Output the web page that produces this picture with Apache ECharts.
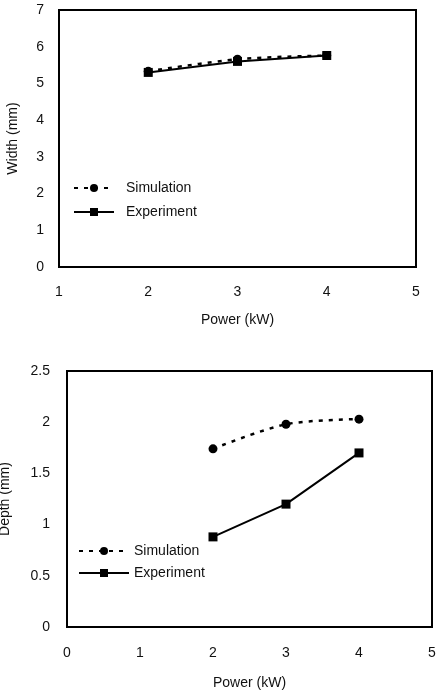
<!DOCTYPE html>
<html style="height: 100%">
<head>
  <meta charset="utf-8">
</head>
<body style="height: 100%; margin: 0; background: #fff">
  <div id="container" style="width: 442px; height: 691px"></div>
  <script src="https://cdn.jsdelivr.net/npm/echarts@6/dist/echarts.min.js"></script>
  <script>
    // data
    var power = [2, 3, 4];
    var widthSim = [5.33, 5.66, 5.76];
    var widthExp = [5.3, 5.6, 5.76];
    var depthSim = [1.74, 1.98, 2.03];
    var depthExp = [0.88, 1.2, 1.7];

    function pairs(xs, ys) {
      return xs.map(function (x, i) { return [x, ys[i]]; });
    }

    var font = 'Liberation Sans, Arial, sans-serif';
    var myChart = echarts.init(document.getElementById('container'));

    var axisCommon = {
      axisLine: { show: false },
      axisTick: { show: false },
      splitLine: { show: false },
      nameLocation: 'middle',
      nameTextStyle: { color: '#111', fontSize: 14, fontFamily: font },
      axisLabel: { color: '#111', fontSize: 14, fontFamily: font }
    };

    function simSeries(idx, data) {
      return {
        name: 'Simulation', type: 'line', xAxisIndex: idx, yAxisIndex: idx,
        data: data, smooth: 0.3,
        symbol: 'circle', symbolSize: 9,
        itemStyle: { color: '#000' },
        lineStyle: { color: '#000', width: 2.5, type: [4, 6] }
      };
    }
    function expSeries(idx, data) {
      return {
        name: 'Experiment', type: 'line', xAxisIndex: idx, yAxisIndex: idx,
        data: data,
        symbol: 'rect', symbolSize: 9,
        itemStyle: { color: '#000' },
        lineStyle: { color: '#000', width: 2 }
      };
    }

    var legendCommon = {
      orient: 'vertical',
      itemHeight: 10, padding: 0,
      data: ['Simulation', 'Experiment']
    };

    var option = {
      animation: false,
      backgroundColor: '#fff',
      grid: [
        { left: 59, top: 10, width: 357, height: 257, show: true, borderColor: '#000', borderWidth: 2, outerBoundsMode: 'none', containLabel: false },
        { left: 67, top: 371, width: 365, height: 256, show: true, borderColor: '#000', borderWidth: 2, outerBoundsMode: 'none', containLabel: false }
      ],
      legend: [
        Object.assign({ left: 73, top: 181, itemWidth: 40, itemGap: 10,
          textStyle: { color: '#111', fontSize: 14, fontFamily: font, padding: [0, 0, 0, 7] } }, legendCommon),
        Object.assign({ left: 78, top: 544, itemWidth: 50, itemGap: 8,
          textStyle: { color: '#111', fontSize: 14, fontFamily: font } }, legendCommon)
      ],
      xAxis: [
        Object.assign({}, axisCommon, {
          type: 'value', gridIndex: 0, min: 1, max: 5, interval: 1,
          name: 'Power (kW)', nameGap: 46,
          axisLabel: Object.assign({}, axisCommon.axisLabel, { margin: 18 })
        }),
        Object.assign({}, axisCommon, {
          type: 'value', gridIndex: 1, min: 0, max: 5, interval: 1,
          name: 'Power (kW)', nameGap: 49,
          axisLabel: Object.assign({}, axisCommon.axisLabel, { margin: 19 })
        })
      ],
      yAxis: [
        Object.assign({}, axisCommon, {
          type: 'value', gridIndex: 0, min: 0, max: 7, interval: 1,
          name: 'Width (mm)', nameGap: 39,
          axisLabel: Object.assign({}, axisCommon.axisLabel, { margin: 15 })
        }),
        Object.assign({}, axisCommon, {
          type: 'value', gridIndex: 1, min: 0, max: 2.5, interval: 0.5,
          name: 'Depth (mm)', nameGap: 55,
          axisLabel: Object.assign({}, axisCommon.axisLabel, { margin: 17 })
        })
      ],
      series: [
        simSeries(0, pairs(power, widthSim)),
        expSeries(0, pairs(power, widthExp)),
        simSeries(1, pairs(power, depthSim)),
        expSeries(1, pairs(power, depthExp))
      ]
    };

    myChart.setOption(option);
    window.addEventListener('resize', myChart.resize);
  </script>
</body>
</html>
